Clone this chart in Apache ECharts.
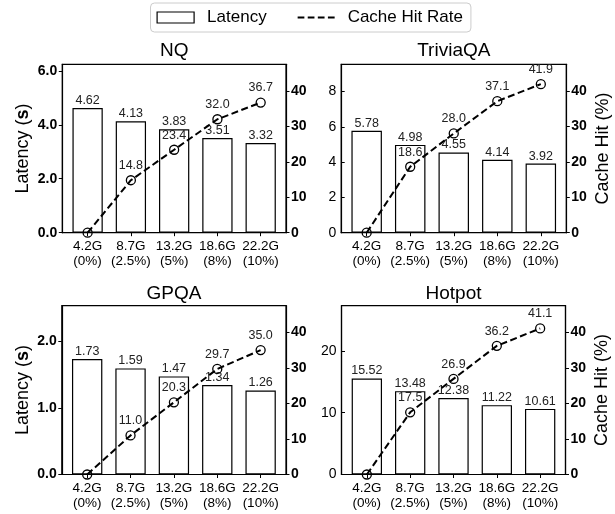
<!DOCTYPE html>
<html><head><meta charset="utf-8">
<script src="https://cdn.jsdelivr.net/npm/echarts@6/dist/echarts.min.js"></script>
<style>html,body{margin:0;padding:0;background:#fff}#c{width:615px;height:514px}</style>
</head><body><div id="c"></div>
<script>
// ---------- data ----------
const categories = ['4.2G\n(0%)', '8.7G\n(2.5%)', '13.2G\n(5%)', '18.6G\n(8%)', '22.2G\n(10%)'];
const datasets = ['NQ', 'TriviaQA', 'GPQA', 'Hotpot'];
const seriesNames = ['Latency', 'Cache Hit Rate'];

const nqLatency = [4.62, 4.13, 3.83, 3.51, 3.32];
const nqHit = [0, 14.8, 23.4, 32.0, 36.7];
const triviaLatency = [5.78, 4.98, 4.55, 4.14, 3.92];
const triviaHit = [0, 18.6, 28.0, 37.1, 41.9];
const gpqaLatency = [1.73, 1.59, 1.47, 1.34, 1.26];
const gpqaHit = [0, 11.0, 20.3, 29.7, 35.0];
const hotpotLatency = [15.52, 13.48, 12.38, 11.22, 10.61];
const hotpotHit = [0, 17.5, 26.9, 36.2, 41.1];

const nqLatencyTicks = [0, 2, 4, 6];
const triviaLatencyTicks = [0, 2, 4, 6, 8];
const gpqaLatencyTicks = [0, 1, 2];
const hotpotLatencyTicks = [0, 10, 20];
const hitTicks = [0, 10, 20, 30, 40];

// ---------- layout / style ----------
const FONT = '"Liberation Sans", Arial, Helvetica, sans-serif';
const X_MIN = -0.585, X_MAX = 4.585, BAR_UNITS = 0.7;
const HIT_MAX = 47.5;
const layout = [
  { l: 62.3, r: 286, t: 64.3, b: 232.7, tx: 174.2, ty: 41.5 },
  { l: 341.2, r: 566.3, t: 64.3, b: 232.7, tx: 453.8, ty: 41.5 },
  { l: 61.8, r: 286, t: 305.7, b: 474.5, tx: 173.9, ty: 284 },
  { l: 341.5, r: 565.5, t: 305.7, b: 474.5, tx: 453.5, ty: 284 }
];
const panels = [
  { lat: nqLatency, hit: nqHit, ticks: nqLatencyTicks, max: 6.24, bold: true, dec: 1, inside: false, leftName: true, rightName: false },
  { lat: triviaLatency, hit: triviaHit, ticks: triviaLatencyTicks, max: 9.55, bold: false, dec: 0, inside: true, leftName: false, rightName: true },
  { lat: gpqaLatency, hit: gpqaHit, ticks: gpqaLatencyTicks, max: 2.53, bold: true, dec: 1, inside: false, leftName: true, rightName: false },
  { lat: hotpotLatency, hit: hotpotHit, ticks: hotpotLatencyTicks, max: 27.3, bold: false, dec: 0, inside: true, leftName: false, rightName: true }
];
const catIdx = categories.map((_, j) => j);
const axisLine = { show: true, onZero: false, lineStyle: { color: '#000', width: 1.2 } };

const grid = [], xAxis = [], yAxis = [], series = [], title = [];
panels.forEach((p, i) => {
  const g = layout[i];
  const w = g.r - g.l;
  grid.push({ left: g.l, top: g.t, width: w, height: g.b - g.t, show: true, borderColor: '#000', borderWidth: 1.2,
    backgroundColor: 'transparent', containLabel: false, outerBoundsMode: 'none' });
  title.push({ text: datasets[i], left: g.tx, top: g.ty, textAlign: 'center', padding: 0,
    textStyle: { fontFamily: FONT, fontSize: 19, fontWeight: 'normal', color: '#000' } });
  xAxis.push({ gridIndex: i, type: 'value', min: X_MIN, max: X_MAX, splitLine: { show: false }, axisLine,
    axisTick: { show: true, customValues: catIdx, length: 3.5, lineStyle: { color: '#000', width: 1 } },
    axisLabel: { customValues: catIdx, formatter: v => categories[Math.round(v)], fontFamily: FONT, fontSize: 13.5,
      lineHeight: 15, color: '#000', margin: 6 } });
  yAxis.push({ gridIndex: i, type: 'value', position: 'left', min: 0, max: p.max, splitLine: { show: false }, axisLine,
    axisTick: { show: true, inside: p.inside, length: 3.5, customValues: p.ticks, lineStyle: { color: '#000', width: 1 } },
    axisLabel: { customValues: p.ticks, formatter: v => v.toFixed(p.dec), fontFamily: FONT,
      fontWeight: p.bold ? 'bold' : 'normal', fontSize: 14, color: '#000', margin: 5 },
    name: p.leftName ? 'Latency ({b|s})' : '', nameLocation: 'middle', nameGap: 30, nameRotate: 90,
    nameTextStyle: { fontFamily: FONT, fontSize: 18, color: '#000',
      rich: { b: { fontFamily: FONT, fontSize: 18, fontWeight: 'bold', color: '#000' } } } });
  yAxis.push({ gridIndex: i, type: 'value', position: 'right', min: 0, max: HIT_MAX, splitLine: { show: false }, axisLine,
    axisTick: { show: true, length: 3.5, customValues: hitTicks, lineStyle: { color: '#000', width: 1 } },
    axisLabel: { customValues: hitTicks, formatter: v => String(v), fontFamily: FONT, fontWeight: 'bold', fontSize: 14,
      color: '#000', margin: 5 },
    name: p.rightName ? 'Cache Hit (%)' : '', nameLocation: 'middle', nameGap: 28, nameRotate: 90,
    nameTextStyle: { fontFamily: FONT, fontSize: 18, color: '#000' } });
  series.push({ name: seriesNames[0], type: 'bar', xAxisIndex: i, yAxisIndex: 2 * i,
    data: p.lat.map((v, j) => [j, v]), barWidth: BAR_UNITS * w / (X_MAX - X_MIN),
    itemStyle: { color: '#fff', borderColor: '#000', borderWidth: 1.2 },
    label: { show: true, position: 'top', distance: 1, formatter: q => q.value[1].toFixed(2),
      fontFamily: FONT, fontSize: 12.5, color: '#222' } });
  series.push({ name: seriesNames[1], type: 'line', xAxisIndex: i, yAxisIndex: 2 * i + 1, z: 3,
    data: p.hit.map((v, j) => [j, v]), symbol: 'circle', symbolSize: 9,
    itemStyle: { color: 'rgba(0,0,0,0)', borderColor: '#000', borderWidth: 1.3 },
    lineStyle: { color: '#000', width: 2, type: [7, 3.5] },
    label: { show: true, position: 'top', distance: 3, formatter: q => q.value[1] === 0 ? '' : q.value[1].toFixed(1),
      fontFamily: FONT, fontSize: 12.5, color: '#222' } });
});

const chart = echarts.init(document.getElementById('c'), null, { renderer: 'canvas' });
chart.setOption({
  animation: false,
  backgroundColor: '#fff',
  title,
  legend: {
    left: 150.5, top: 3, padding: [6, 8, 6, 6], itemGap: 31, itemWidth: 37, itemHeight: 11,
    borderColor: '#ccc', borderWidth: 1, borderRadius: 4, backgroundColor: '#fff',
    textStyle: { fontFamily: FONT, fontSize: 17, color: '#000', padding: [0, 0, 0, 8] },
    data: [
      { name: seriesNames[0], icon: 'rect', itemStyle: { color: '#fff', borderColor: '#000', borderWidth: 1.2 } },
      { name: seriesNames[1], icon: 'path://M0 0h7v2H0zM10.5 0h7v2h-7zM21 0h7v2h-7zM31.5 0h7v2h-7z',
        itemStyle: { color: '#000', borderWidth: 0 } }
    ]
  },
  grid, xAxis, yAxis, series
});
</script></body></html>
